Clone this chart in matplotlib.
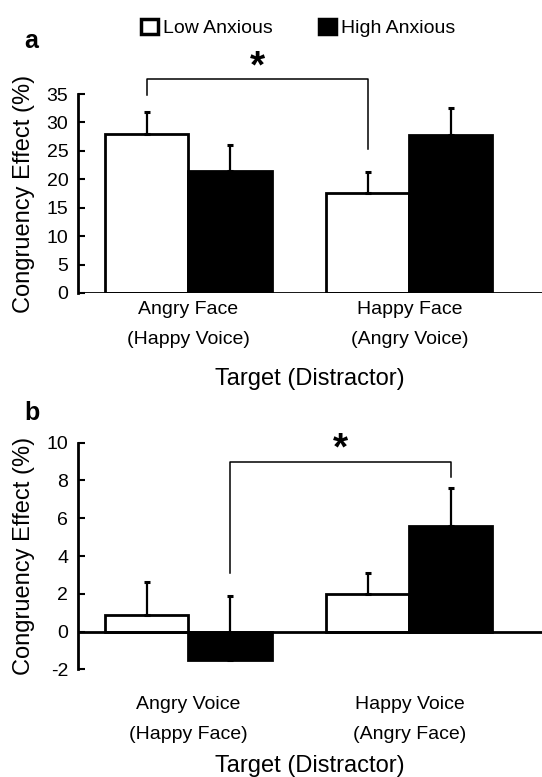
import numpy as np
import matplotlib
matplotlib.use("Agg")
import matplotlib.pyplot as plt
from matplotlib.patches import Patch

plt.rcParams['font.family'] = ['Liberation Sans', 'DejaVu Sans']
plt.rcParams['axes.unicode_minus'] = False

# data
groups = ['Low Anxious', 'High Anxious']

labels_a = ['Angry Face\n(Happy Voice)', 'Happy Face\n(Angry Voice)']
low_a = [27.9, 17.5]
low_a_err = [4.0, 3.8]
high_a = [21.4, 27.8]
high_a_err = [4.6, 4.8]

labels_b = ['Angry Voice\n(Happy Face)', 'Happy Voice\n(Angry Face)']
low_b = [0.87, 2.0]
low_b_err = [1.73, 1.1]
high_b = [-1.5, 5.57]
high_b_err = [3.37, 2.03]

xlab = 'Target (Distractor)'
ylab = 'Congruency Effect (%)'

W = 0.376
x = np.arange(2)

fig = plt.figure(figsize=(5.42, 7.77), dpi=100)
ax_a = fig.add_axes([0.1439, 0.623, 0.856, 0.256])
ax_b = fig.add_axes([0.1439, 0.1386, 0.856, 0.2916])


def draw(ax, low, low_err, high, high_err, ticklabels, ylim, yticks, tickpad):
    ax.bar(x - W / 2, low, W, color='white', edgecolor='black', linewidth=2, zorder=2)
    ax.bar(x + W / 2, high, W, color='black', edgecolor='black', linewidth=2, zorder=2)
    ax.errorbar(x - W / 2, low, yerr=[np.zeros(2), low_err], fmt='none', ecolor='black',
                elinewidth=1.6, capsize=2.5, capthick=2.2, zorder=3)
    ax.errorbar(x + W / 2, high, yerr=[np.zeros(2), high_err], fmt='none', ecolor='black',
                elinewidth=1.6, capsize=2.5, capthick=2.2, zorder=1)
    ax.axhline(0, color='black', linewidth=2, zorder=4)
    ax.set_xlim(-0.5, 1.6)
    ax.set_ylim(*ylim)
    ax.set_yticks(yticks)
    ax.set_xticks(x)
    ax.set_xticklabels(ticklabels, fontsize=14)
    for t in ax.get_xticklabels():
        t.set_linespacing(2.0)
    ax.tick_params(axis='x', length=0, pad=tickpad)
    ax.tick_params(axis='y', direction='in', length=5, width=1.5, labelsize=14, pad=7)
    for s in ['top', 'right', 'bottom']:
        ax.spines[s].set_visible(False)
    ax.spines['left'].set_linewidth(2)
    ax.set_ylabel(ylab, fontsize=17, labelpad=8)


def bracket(ax, x0, x1, ytop, y0, y1, ystar):
    ax.plot([x0, x0, x1, x1], [y0, ytop, ytop, y1], color='black', lw=1.1, clip_on=False)
    ax.text((x0 + x1) / 2, ystar, '*', fontsize=28, fontweight='bold', ha='center', va='center',
            clip_on=False)


draw(ax_a, low_a, low_a_err, high_a, high_a_err, labels_a, (0, 35), np.arange(0, 36, 5), 6)
ax_a.set_xlabel(xlab, fontsize=17, labelpad=14)
bracket(ax_a, -W / 2, 1 - W / 2, 37.7, 34.8, 25.3, 39.6)

draw(ax_b, low_b, low_b_err, high_b, high_b_err, labels_b, (-2, 10), np.arange(-2, 11, 2), 19)
ax_b.set_xlabel(xlab, fontsize=17, labelpad=9)
bracket(ax_b, W / 2, 1 + W / 2, 9.0, 3.1, 8.2, 9.65)

fig.text(0.045, 0.947, 'a', fontsize=18, fontweight='bold', ha='left', va='center')
fig.text(0.045, 0.468, 'b', fontsize=18, fontweight='bold', ha='left', va='center')

handles = [Patch(facecolor='white', edgecolor='black', linewidth=2.5),
           Patch(facecolor='black', edgecolor='black', linewidth=2.5)]
fig.legend(handles, groups, loc='center', bbox_to_anchor=(0.55, 0.964), ncol=2, frameon=False,
           fontsize=14, handlelength=0.85, handleheight=0.85, handletextpad=0.25,
           columnspacing=2.4, borderpad=0)

fig.savefig('out.png', dpi=100)
